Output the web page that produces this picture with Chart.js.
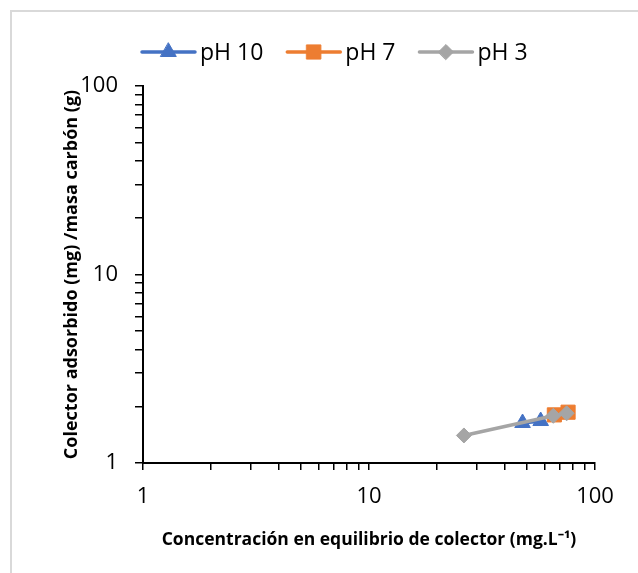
<!DOCTYPE html>
<html>
<head>
<meta charset="utf-8">
<script src="https://cdn.jsdelivr.net/npm/chart.js@4.4.1/dist/chart.umd.min.js"></script>
<style>
html,body{margin:0;padding:0;background:#fff;}
#wrap{position:relative;width:638px;height:573px;}
</style>
</head>
<body>
<div id="wrap"><canvas id="c" width="638" height="573"></canvas></div>
<script>
// ---- data ----
const seriesNames = ['pH 10', 'pH 7', 'pH 3'];
const ph10X = [47.8, 57.5];
const ph10Y = [1.63, 1.67];
const ph7X = [66.1, 76.0];
const ph7Y = [1.80, 1.86];
const ph3X = [26.3, 65.4, 74.9];
const ph3Y = [1.40, 1.78, 1.835];
const xTickValues = [1,2,3,4,5,6,7,8,9,10,20,30,40,50,60,70,80,90,100];
const yTickValues = [1,2,3,4,5,6,7,8,9,10,20,30,40,50,60,70,80,90,100];
const xTickLabels = ['1', '10', '100'];
const yTickLabels = ['1', '10', '100'];
const xTitle = 'Concentración en equilibrio de colector (mg.L⁻¹)';
const yTitle = 'Colector adsorbido (mg) /masa carbón (g)';

const colors = ['#4472C4', '#ED7D31', '#A5A5A5'];
const shapes = ['triangle', 'rect', 'rectRot'];
const radii = [9, 10, 7.5];

function pts(xs, ys){ return xs.map((x,i)=>({x:x, y:ys[i]})); }
const seriesData = [pts(ph10X, ph10Y), pts(ph7X, ph7Y), pts(ph3X, ph3Y)];

const datasets = seriesNames.map((n,i)=>({
  label: n,
  data: seriesData[i],
  showLine: true,
  borderColor: colors[i],
  backgroundColor: colors[i],
  borderWidth: 3.5,
  pointStyle: shapes[i],
  pointRadius: radii[i],
  pointHoverRadius: radii[i],
  pointBorderWidth: 1,
  pointBorderColor: colors[i],
  pointBackgroundColor: colors[i],
  order: 3 - i
}));

const frame = {
  id: 'frame',
  beforeDraw(chart){
    const ctx = chart.ctx;
    ctx.save();
    ctx.fillStyle = '#fff';
    ctx.fillRect(0,0,chart.width,chart.height);
    ctx.strokeStyle = '#d9d9d9';
    ctx.lineWidth = 2;
    ctx.strokeRect(11, 11, chart.width + 20, chart.height + 20);
    ctx.restore();
  }
};

const customLegend = {
  id: 'customLegend',
  afterDraw(chart){
    const ctx = chart.ctx;
    ctx.save();
    ctx.font = '23px "Open Sans"';
    ctx.textBaseline = 'middle';
    let x = 142;
    const y = 52;
    chart.data.datasets.forEach((ds, i)=>{
      const lineLen = 53;
      ctx.strokeStyle = ds.borderColor;
      ctx.lineWidth = 3.5;
      ctx.lineCap = 'round';
      ctx.beginPath(); ctx.moveTo(x, y); ctx.lineTo(x + lineLen, y); ctx.stroke();
      ctx.fillStyle = ds.pointBackgroundColor;
      ctx.strokeStyle = ds.pointBorderColor;
      ctx.lineWidth = 1;
      Chart.helpers.drawPoint(ctx, {pointStyle: ds.pointStyle, radius: ds.pointRadius, rotation: 0, borderWidth: 1}, x + lineLen/2, y);
      ctx.fillStyle = '#000';
      const tx = x + lineLen + 5;
      ctx.fillText(ds.label, tx, y + 1);
      x = tx + ctx.measureText(ds.label).width + 24;
    });
    ctx.restore();
  }
};

function tickSetter(values){
  return function(scale){ scale.ticks = values.map(v=>({value:v})); };
}

new Chart(document.getElementById('c'), {
  type: 'scatter',
  data: { datasets },
  plugins: [frame, customLegend],
  options: {
    responsive: false,
    devicePixelRatio: 1,
    animation: false,
    layout: { padding: { top: 86, right: 43, bottom: 0, left: 0 } },
    plugins: { legend: { display: false }, tooltip: { enabled: false } },
    scales: {
      x: {
        type: 'logarithmic',
        min: 1, max: 100,
        afterBuildTicks: tickSetter(xTickValues),
        afterFit(s){ s.height = 110; },
        ticks: {
          autoSkip: false, maxRotation: 0, padding: 14,
          color: '#000',
          font: { family: '"Open Sans"', size: 22 },
          callback(v){ const s = String(v); return xTickLabels.includes(s) ? s : ''; }
        },
        grid: { drawOnChartArea: false, drawTicks: true, tickLength: 7, color: '#000', lineWidth: 1.5 },
        border: { display: true, color: '#000', width: 2 },
        title: { display: true, text: xTitle, color: '#000',
          font: { family: '"Open Sans"', size: 17.5, weight: 'bold' },
          padding: { top: 0, bottom: 22 } }
      },
      y: {
        type: 'logarithmic',
        min: 1, max: 100,
        afterBuildTicks: tickSetter(yTickValues),
        afterFit(s){ s.width = 143; },
        ticks: {
          autoSkip: false, padding: 17,
          color: '#000',
          font: { family: '"Open Sans"', size: 22 },
          callback(v){ const s = String(v); return yTickLabels.includes(s) ? s : ''; }
        },
        grid: { drawOnChartArea: false, drawTicks: true, tickLength: 8, color: '#000', lineWidth: 1.5 },
        border: { display: true, color: '#000', width: 2 },
        title: { display: true, text: yTitle, color: '#000',
          font: { family: '"Open Sans"', size: 18, weight: 'bold' },
          padding: { top: 61, bottom: 0 } }
      }
    }
  }
});
</script>
</body>
</html>
